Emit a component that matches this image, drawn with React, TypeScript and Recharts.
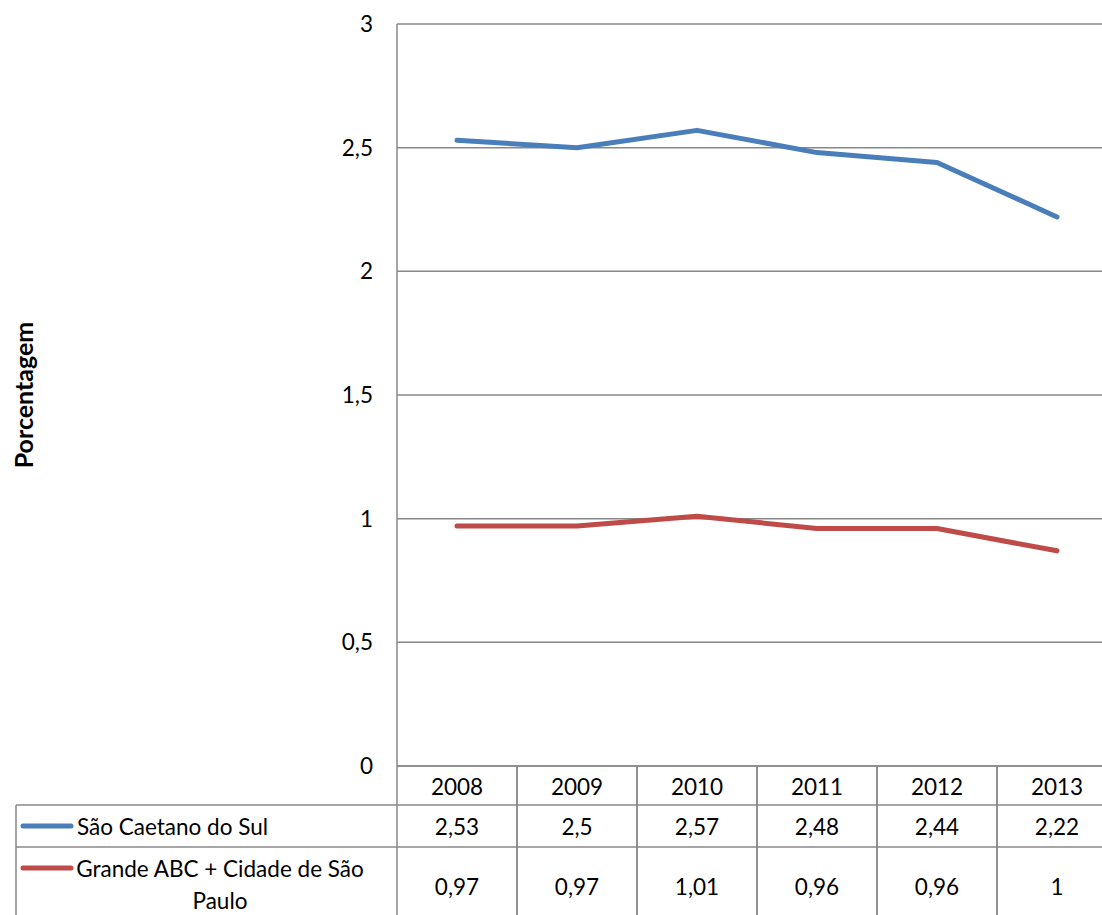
import React from "react";
import { LineChart, Line, XAxis, YAxis, CartesianGrid } from "recharts";

const years = ["2008", "2009", "2010", "2011", "2012", "2013"];
const saoCaetano = [2.53, 2.5, 2.57, 2.48, 2.44, 2.22];
const grandeAbc = [0.97, 0.97, 1.01, 0.96, 0.96, 0.87];
// the data table under the chart prints these for the second series
const grandeAbcTable = ["0,97", "0,97", "1,01", "0,96", "0,96", "1"];
const yTicks = [0, 0.5, 1, 1.5, 2, 2.5, 3];

const seriesNames = ["São Caetano do Sul", "Grande ABC + Cidade de São Paulo"];
const COLORS = ["#4A7EBB", "#BE4B48"];
const GRID = "#888888";
const FONT = "Lato, 'Open Sans', sans-serif";
const FS = 22.5;

const data = years.map((year, i) => ({
  year,
  sc: saoCaetano[i],
  abc: grandeAbc[i],
}));

const fmt = (v: number) => String(v).replace(".", ",");

const HALF = 60; // half a category column
const ROW1 = 805;
const ROW2 = 847;
const BOTTOM = 915;
const LEFT = 16;

const TableTick = (props: any) => {
  const { x, y, payload } = props;
  const i = payload.index;
  const right = x - HALF + 2 * HALF * (years.length - i);
  return (
    <g fontFamily={FONT} fontSize={FS} fill="#000">
      {i === 0 && (
        <g>
          <line x1={LEFT} y1={ROW1} x2={right} y2={ROW1} stroke={GRID} strokeWidth={1.5} />
          <line x1={LEFT} y1={ROW2} x2={right} y2={ROW2} stroke={GRID} strokeWidth={1.5} />
          <line x1={LEFT} y1={ROW1} x2={LEFT} y2={BOTTOM} stroke={GRID} strokeWidth={1.5} />
          <line x1={23} y1={826} x2={71} y2={826} stroke={COLORS[0]} strokeWidth={5} strokeLinecap="round" />
          <text x={77} y={826} dominantBaseline="central">{seriesNames[0]}</text>
          <line x1={23} y1={868} x2={71} y2={868} stroke={COLORS[1]} strokeWidth={5} strokeLinecap="round" />
          <text x={220} y={868} textAnchor="middle" dominantBaseline="central">Grande ABC + Cidade de São</text>
          <text x={220} y={900} textAnchor="middle" dominantBaseline="central">Paulo</text>
        </g>
      )}
      <line x1={x - HALF} y1={y} x2={x - HALF} y2={BOTTOM} stroke={GRID} strokeWidth={1.5} />
      <line x1={x + HALF} y1={y} x2={x + HALF} y2={BOTTOM} stroke={GRID} strokeWidth={1.5} />
      <text x={x} y={786} textAnchor="middle" dominantBaseline="central">{payload.value}</text>
      <text x={x} y={826} textAnchor="middle" dominantBaseline="central">{fmt(saoCaetano[i])}</text>
      <text x={x} y={886} textAnchor="middle" dominantBaseline="central">{grandeAbcTable[i]}</text>
    </g>
  );
};

export default function App() {
  return (
    <div style={{ position: "absolute", left: 0, top: 0, width: 1102, height: 915, overflow: "hidden", background: "#fff" }}>
      <LineChart width={1130} height={915} data={data} margin={{ top: 24, right: 13, bottom: 0, left: 0 }}>
        <CartesianGrid vertical={false} stroke={GRID} strokeWidth={1.5} />
        <XAxis
          dataKey="year"
          padding={{ left: HALF, right: HALF }}
          height={149}
          tickSize={0}
          tickMargin={0}
          axisLine={{ stroke: GRID, strokeWidth: 1.5 }}
          tickLine={false}
          tick={<TableTick />}
          interval={0}
        />
        <YAxis
          width={397}
          domain={[0, 3]}
          ticks={yTicks}
          tickFormatter={fmt}
          tickSize={0}
          tickMargin={24}
          tickLine={false}
          axisLine={{ stroke: GRID, strokeWidth: 1.5 }}
          tick={{ fontSize: FS, fill: "#000", fontFamily: FONT }}
          label={{
            value: "Porcentagem",
            angle: -90,
            position: "insideLeft",
            offset: 24,
            style: { fontSize: 25, fontWeight: "bold", fill: "#000", fontFamily: FONT, textAnchor: "middle" },
          }}
        />
        <Line
          dataKey="sc"
          name={seriesNames[0]}
          stroke={COLORS[0]}
          strokeWidth={5}
          dot={false}
          strokeLinecap="round"
          strokeLinejoin="round"
          isAnimationActive={false}
        />
        <Line
          dataKey="abc"
          name={seriesNames[1]}
          stroke={COLORS[1]}
          strokeWidth={5}
          dot={false}
          strokeLinecap="round"
          strokeLinejoin="round"
          isAnimationActive={false}
        />
      </LineChart>
    </div>
  );
}
